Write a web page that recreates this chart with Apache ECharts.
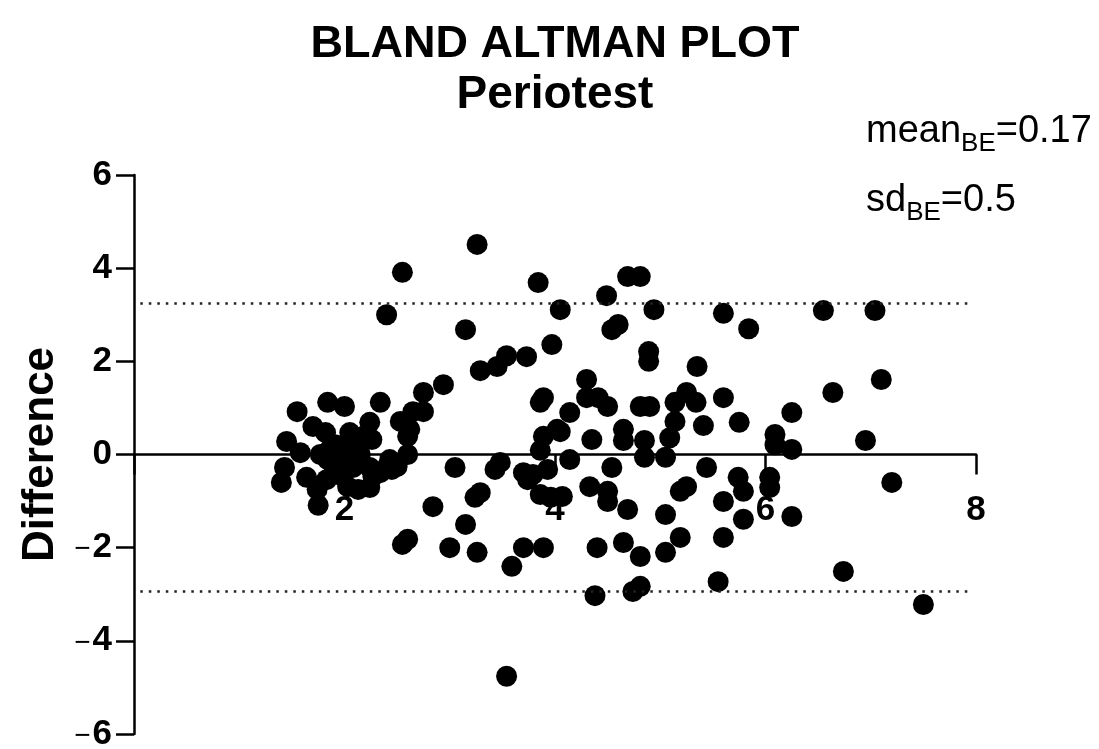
<!DOCTYPE html>
<html>
<head>
<meta charset="utf-8">
<script src="https://cdn.jsdelivr.net/npm/echarts@6/dist/echarts.min.js"></script>
<style>html,body{margin:0;padding:0;background:#fff;}#c{width:1099px;height:749px;}</style>
</head>
<body>
<div id="c"></div>
<script>
// Mean of the two measurements (x) and their difference (y)
var means = [
  1.40,1.43,1.45,1.55,1.58,1.64,1.70,1.74,1.75,1.77,1.82,1.83,1.84,1.84,1.86,1.89,1.91,1.94,1.98,2.00,
  2.00,2.02,2.03,2.05,2.08,2.10,2.13,2.15,2.18,2.24,2.24,2.24,2.26,2.27,2.34,2.40,2.43,2.45,2.50,2.34,
  2.53,2.60,2.62,2.60,2.65,2.75,2.75,2.94,2.55,2.40,2.84,2.60,2.55,3.00,3.05,3.15,3.15,3.26,3.24,3.29,
  3.26,3.29,3.45,3.54,3.73,3.48,3.43,3.59,3.54,3.70,3.79,3.74,3.70,3.89,3.84,3.86,3.89,4.02,3.97,3.86,
  3.96,4.07,3.93,4.05,4.14,4.14,4.05,3.89,3.86,4.30,4.30,4.41,4.50,4.35,4.33,4.40,4.38,4.49,4.54,4.60,
  4.54,4.50,4.50,4.69,4.65,4.65,4.69,4.81,4.81,4.90,4.85,4.85,4.89,4.89,4.94,5.05,5.09,5.14,5.14,5.25,
  5.34,5.35,5.41,5.44,5.19,5.25,5.05,4.65,4.81,5.05,5.19,4.74,4.81,5.60,5.60,5.60,5.60,5.55,5.75,5.84,
  5.74,5.79,5.79,6.04,6.04,6.09,6.09,6.25,6.25,6.25,6.55,6.64,6.74,6.95,7.04,7.10,7.20,7.50,1.96
];
var differences = [
  -0.60,-0.28,0.28,0.92,0.04,-0.49,0.60,-0.75,-1.09,0.00,0.47,-0.54,1.12,-0.11,0.11,-0.21,0.21,0.00,-0.47,1.03,
  -0.32,-0.04,-0.69,0.47,-0.28,0.32,-0.75,0.00,0.39,0.69,-0.28,-0.71,0.32,-0.47,1.12,-0.28,-0.11,-0.32,-0.26,-0.39,
  0.71,0.39,0.54,0.00,0.92,0.92,1.33,1.50,3.91,3.00,-1.12,-1.82,-1.93,-2.00,-0.28,-1.50,2.68,4.51,-0.92,-0.82,
  -2.10,1.80,1.89,2.12,2.10,-0.17,-0.32,-2.40,-4.76,-0.39,-0.43,-0.54,-2.00,-2.00,3.69,0.09,0.39,0.54,2.36,-0.86,
  -0.92,-0.90,-0.32,3.11,-0.11,0.90,0.49,1.22,1.12,1.61,1.22,1.22,1.03,0.32,-0.69,-2.00,-3.03,3.41,2.68,2.79,
  -0.28,-0.79,-1.01,-1.18,0.54,0.30,3.82,3.82,1.03,1.03,0.30,-0.06,2.21,2.00,3.11,-0.06,0.36,1.12,0.71,1.33,
  1.12,1.89,0.62,-0.28,-0.79,-0.69,-1.29,-1.89,-2.19,-2.10,-1.78,-2.94,-2.83,3.03,1.22,-1.01,-1.78,-2.73,0.69,2.70,
  -0.49,-0.79,-1.39,-0.49,-0.71,0.43,0.21,0.11,0.90,-1.33,3.09,1.33,-2.51,0.30,3.09,1.61,-0.60,-3.22,0.17
];
// Limits of agreement
var upperLimit = 3.25;
var lowerLimit = -2.93;
var xTicks = [0, 2, 4, 6, 8];
var yTicks = [-6, -4, -2, 0, 2, 4, 6];
var titleLines = ['BLAND ALTMAN PLOT', 'Periotest'];
var statMean = '0.17';
var statSd = '0.5';

var points = means.map(function (m, i) { return [m, differences[i]]; });
var FONT = '"Liberation Sans", Arial, Helvetica, sans-serif';

var GRID_TOP = 175, GRID_BOTTOM_PX = 734;
var chart = echarts.init(document.getElementById('c'), null, { renderer: 'canvas' });
var yMin = yTicks[0], yMax = yTicks[yTicks.length - 1];
// shift of the x axis from the grid bottom up to the zero line
var zeroOffset = -(GRID_BOTTOM_PX - GRID_TOP) * (0 - yMin) / (yMax - yMin);

var subRich = {
  a: { fontFamily: FONT, fontSize: 38, color: '#000', lineHeight: 40 },
  s: { fontFamily: FONT, fontSize: 26, color: '#000', lineHeight: 40, padding: [24, 0, 0, 0] }
};
chart.setOption({
  animation: false,
  backgroundColor: '#fff',
  grid: { left: 134, right: 123, top: GRID_TOP, bottom: 749 - GRID_BOTTOM_PX, containLabel: false, outerBoundsMode: 'none' },
  xAxis: {
    type: 'value', min: xTicks[0], max: xTicks[xTicks.length - 1], interval: 2,
    position: 'bottom', offset: zeroOffset,
    axisLine: { show: true, onZero: false, lineStyle: { color: '#000', width: 2.5 } },
    axisTick: { show: true, length: 20, lineStyle: { color: '#000', width: 2.5 } },
    axisLabel: {
      margin: 38, fontFamily: FONT, fontSize: 35, fontWeight: 'bold', color: '#000',
      formatter: function (v) { return v === 0 ? '' : String(v); }
    },
    splitLine: { show: false }
  },
  yAxis: {
    type: 'value', min: yMin, max: yMax, interval: 2,
    name: 'Difference', nameLocation: 'middle', nameGap: 66, nameRotate: 90,
    nameTextStyle: { fontFamily: FONT, fontSize: 44, fontWeight: 'bold', color: '#000' },
    axisLine: { show: true, onZero: false, lineStyle: { color: '#000', width: 2.5 } },
    axisTick: { show: true, length: 18, lineStyle: { color: '#000', width: 2.5 } },
    axisLabel: {
      margin: 22, color: '#000',
      formatter: function (v) { return v < 0 ? '{m|\u2212}{n|' + Math.abs(v) + '}' : '{n|' + v + '}'; },
      rich: {
        m: { fontFamily: FONT, fontSize: 28, fontWeight: 'normal', color: '#000', padding: [4, 2, 0, 0] },
        n: { fontFamily: FONT, fontSize: 35, fontWeight: 'bold', color: '#000' }
      }
    },
    splitLine: { show: false }
  },
  series: [{
    type: 'scatter',
    data: points,
    symbol: 'circle',
    symbolSize: 21,
    itemStyle: { color: '#000', opacity: 1 },
    markLine: {
      silent: true, symbol: 'none', label: { show: false },
      lineStyle: { color: '#222', width: 2.5, type: [2.5, 6] },
      data: [
        [{ coord: [0.06, upperLimit] }, { coord: [7.95, upperLimit] }],
        [{ coord: [0.06, lowerLimit] }, { coord: [7.95, lowerLimit] }]
      ]
    }
  }],
  graphic: [
    { type: 'text', x: 555, y: 45, style: { text: titleLines[0], font: 'bold 45px ' + FONT, fill: '#000', align: 'center', verticalAlign: 'middle', textAlign: 'center', textVerticalAlign: 'middle' } },
    { type: 'text', x: 555, y: 95, style: { text: titleLines[1], font: 'bold 46px ' + FONT, fill: '#000', align: 'center', verticalAlign: 'middle', textAlign: 'center', textVerticalAlign: 'middle' } },
    { type: 'text', x: 866, y: 112, style: { text: '{a|mean}{s|BE}{a|=' + statMean + '}', rich: subRich, fill: '#000' } },
    { type: 'text', x: 866, y: 181, style: { text: '{a|sd}{s|BE}{a|=' + statSd + '}', rich: subRich, fill: '#000' } }
  ]
});
</script>
</body>
</html>
